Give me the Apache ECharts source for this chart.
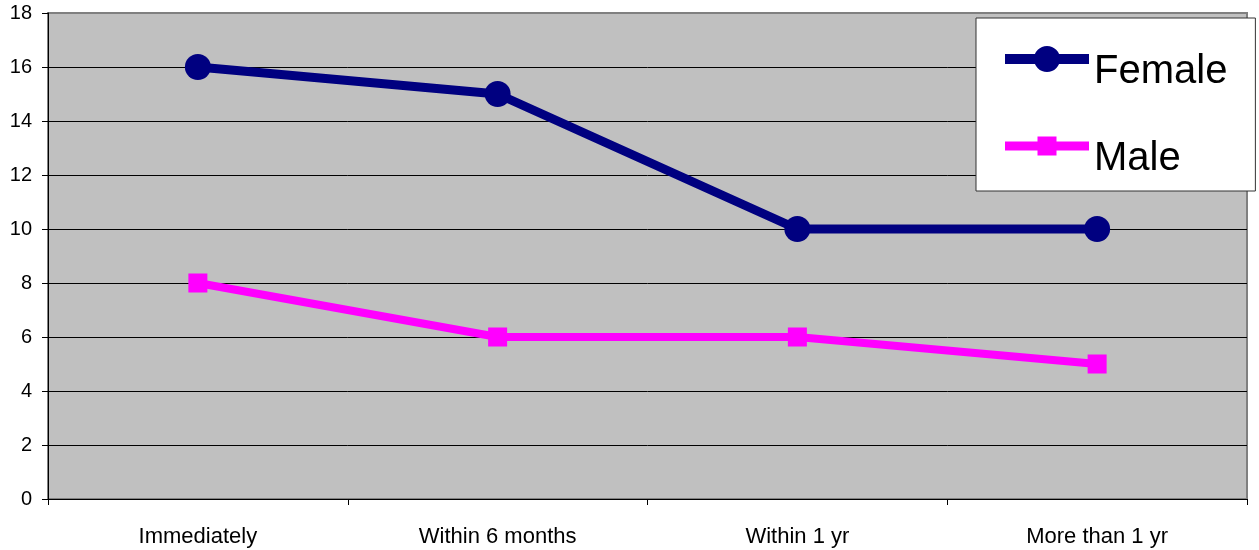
<!DOCTYPE html>
<html>
<head>
<meta charset="utf-8">
<script src="https://cdn.jsdelivr.net/npm/echarts@6/dist/echarts.min.js"></script>
<style>
  html, body { margin: 0; padding: 0; background: #fff; }
  #chart { width: 1259px; height: 550px; }
</style>
</head>
<body>
<div id="chart"></div>
<script>
// Time-to-event categories and counts per group
const categories = ['Immediately', 'Within 6 months', 'Within 1 yr', 'More than 1 yr'];
const femaleValues = [16, 15, 10, 10];
const maleValues = [8, 6, 6, 5];
const yTicks = { min: 0, max: 18, interval: 2 };

const chart = echarts.init(document.getElementById('chart'), null, { renderer: 'canvas' });

const font = 'Liberation Sans, Arial, sans-serif';

// Gridlines are black; the one on the top edge takes the frame's grey
const tickCount = (yTicks.max - yTicks.min) / yTicks.interval + 1;
const gridColors = Array.from({ length: tickCount }, (_, i) => (i === tickCount - 1 ? '#808080' : '#000000'));

// Legend swatches: a thick line stroke with the series marker on it (84 x 26 box)
const femaleIcon = 'path://M0,8H84V18H0Z M29,13A13,13 0 1,1 55,13A13,13 0 1,1 29,13Z';
const maleIcon = 'path://M0,0H0.05V0.05H0Z M83.95,25.95H84V26H83.95Z M0,8.5H84V17.5H0Z M32.5,3.5H51.5V22.5H32.5Z';

chart.setOption({
  backgroundColor: '#ffffff',
  animation: false,
  grid: {
    left: 48, right: 12, top: 13, bottom: 51,
    show: true,
    backgroundColor: '#c0c0c0',
    borderColor: '#808080',
    borderWidth: 2
  },
  legend: {
    orient: 'vertical',
    left: 976,
    top: 18,
    padding: [8, 28, 12, 29],
    itemGap: 21,
    itemWidth: 84,
    itemHeight: 26,
    symbolKeepAspect: false,
    backgroundColor: '#ffffff',
    borderColor: '#333333',
    borderWidth: 1,
    itemStyle: { borderWidth: 0 },
    formatter: name => '\n' + name,
    textStyle: { fontFamily: font, fontSize: 40, color: '#000', lineHeight: 26 },
    data: [
      { name: 'Female', icon: femaleIcon },
      { name: 'Male', icon: maleIcon }
    ]
  },
  xAxis: {
    type: 'category',
    data: categories,
    boundaryGap: true,
    axisLine: { show: true, lineStyle: { color: '#000', width: 1 } },
    axisTick: { show: true, length: 6, alignWithLabel: false, lineStyle: { color: '#000' } },
    axisLabel: { fontFamily: font, fontSize: 22, color: '#000', margin: 27 },
    splitLine: { show: false }
  },
  yAxis: {
    type: 'value',
    min: yTicks.min,
    max: yTicks.max,
    interval: yTicks.interval,
    axisLine: { show: true, lineStyle: { color: '#000', width: 1 } },
    axisTick: { show: true, length: 6, lineStyle: { color: '#000' } },
    axisLabel: { fontFamily: font, fontSize: 20, color: '#000', margin: 16 },
    splitLine: { show: true, lineStyle: { color: gridColors, width: 1 } }
  },
  series: [
    {
      name: 'Female',
      type: 'line',
      data: femaleValues,
      symbol: 'circle',
      symbolSize: 26,
      lineStyle: { color: '#000080', width: 9 },
      itemStyle: { color: '#000080' }
    },
    {
      name: 'Male',
      type: 'line',
      data: maleValues,
      symbol: 'rect',
      symbolSize: 19,
      lineStyle: { color: '#ff00ff', width: 8 },
      itemStyle: { color: '#ff00ff' }
    }
  ]
});
</script>
</body>
</html>
